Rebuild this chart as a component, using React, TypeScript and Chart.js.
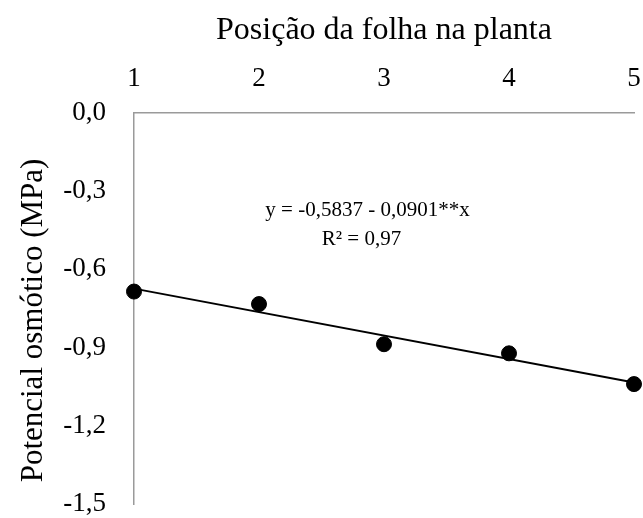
import React, { useEffect, useRef } from "react";
import { Chart, registerables } from "chart.js";

Chart.register(...registerables);

// ---- data ----
const positions = [1, 2, 3, 4, 5];
const osmoticPotential = [-0.685, -0.733, -0.887, -0.922, -1.04];
const xTickValues = [1, 2, 3, 4, 5];
const yTickValues = [0, -0.3, -0.6, -0.9, -1.2, -1.5];
const trendIntercept = -0.5837;
const trendSlope = -0.0901;
const trendRange = [1, 5];
const equationLines = ["y = -0,5837 - 0,0901**x", "R² = 0,97"];
const xTitle = "Posição da folha na planta";
const yTitle = "Potencial osmótico (MPa)";

const FONT = "'Liberation Serif', 'Times New Roman', serif";

const annotationPlugin = {
  id: "equationLabel",
  afterDraw(chart: any) {
    const { ctx, chartArea } = chart;
    ctx.save();
    ctx.fillStyle = "#000";
    ctx.font = `21px ${FONT}`;
    ctx.textAlign = "center";
    ctx.textBaseline = "alphabetic";
    ctx.fillText(equationLines[0], chartArea.left + 233.5, chartArea.top + 102.5);
    ctx.fillText(equationLines[1], chartArea.left + 227.5, chartArea.top + 132);
    ctx.restore();

    // y-axis title
    ctx.save();
    ctx.fillStyle = "#000";
    ctx.font = `31px ${FONT}`;
    ctx.textAlign = "center";
    ctx.textBaseline = "alphabetic";
    ctx.translate(chartArea.left - 92, (chartArea.top + chartArea.bottom) / 2 + 12);
    ctx.rotate(-Math.PI / 2);
    ctx.fillText(yTitle, 0, 0);
    ctx.restore();
  },
};

const zeroPadding = (scale: any) => {
  scale.paddingLeft = 0;
  scale.paddingRight = 0;
  scale.paddingTop = 0;
  scale.paddingBottom = 0;
};

export default function App() {
  const ref = useRef<HTMLCanvasElement | null>(null);

  useEffect(() => {
    const canvas = ref.current;
    if (!canvas) return;
    const points = positions.map((x, i) => ({ x, y: osmoticPotential[i] }));
    const trend = trendRange.map((x) => ({ x, y: trendIntercept + trendSlope * x }));

    const chart = new Chart(canvas, {
      type: "scatter",
      data: {
        datasets: [
          {
            type: "line",
            data: trend,
            borderColor: "#000",
            borderWidth: 2,
            pointRadius: 0,
            fill: false,
            clip: false,
          } as any,
          {
            data: points,
            backgroundColor: "#000",
            borderColor: "#000",
            pointRadius: 7.5,
            pointHoverRadius: 7.5,
            clip: false,
          } as any,
        ],
      },
      options: {
        animation: false,
        responsive: false,
        devicePixelRatio: 1,
        layout: { padding: { left: 0, top: 0, right: 9, bottom: 14 } },
        plugins: {
          legend: { display: false },
          tooltip: { enabled: false },
        },
        scales: {
          x: {
            type: "linear",
            position: "top",
            min: 1,
            max: 5,
            afterBuildTicks: (scale: any) => {
              scale.ticks = xTickValues.map((v) => ({ value: v }));
            },
            afterFit: (scale: any) => {
              scale.height = 113;
              zeroPadding(scale);
            },
            grid: { display: false, drawTicks: false },
            border: { display: true, color: "#9a9a9a", width: 1.5 },
            ticks: {
              color: "#000",
              font: { family: FONT, size: 27, lineHeight: 1 },
              padding: 21,
              maxRotation: 0,
              autoSkip: false,
              callback: (v: any) => String(v),
            },
            title: {
              display: true,
              text: xTitle,
              color: "#000",
              font: { family: FONT, size: 32, lineHeight: 1 },
              padding: { top: 15, bottom: 0 },
            },
          },
          y: {
            type: "linear",
            position: "left",
            min: -1.5,
            max: 0,
            afterBuildTicks: (scale: any) => {
              scale.ticks = yTickValues.map((v) => ({ value: v }));
            },
            afterFit: (scale: any) => {
              scale.width = 134;
              zeroPadding(scale);
            },
            grid: { display: false, drawTicks: false },
            border: { display: true, color: "#9a9a9a", width: 1.5 },
            ticks: {
              color: "#000",
              font: { family: FONT, size: 27, lineHeight: 1 },
              padding: 28,
              autoSkip: false,
              callback: (v: any) => Number(v).toFixed(1).replace(".", ","),
            },
            title: { display: false },
          },
        },
      },
      plugins: [annotationPlugin],
    });

    return () => chart.destroy();
  }, []);

  return (
    <canvas
      ref={ref}
      width={643}
      height={518}
      style={{ position: "absolute", left: 0, top: 0, width: 643, height: 518 }}
    />
  );
}
